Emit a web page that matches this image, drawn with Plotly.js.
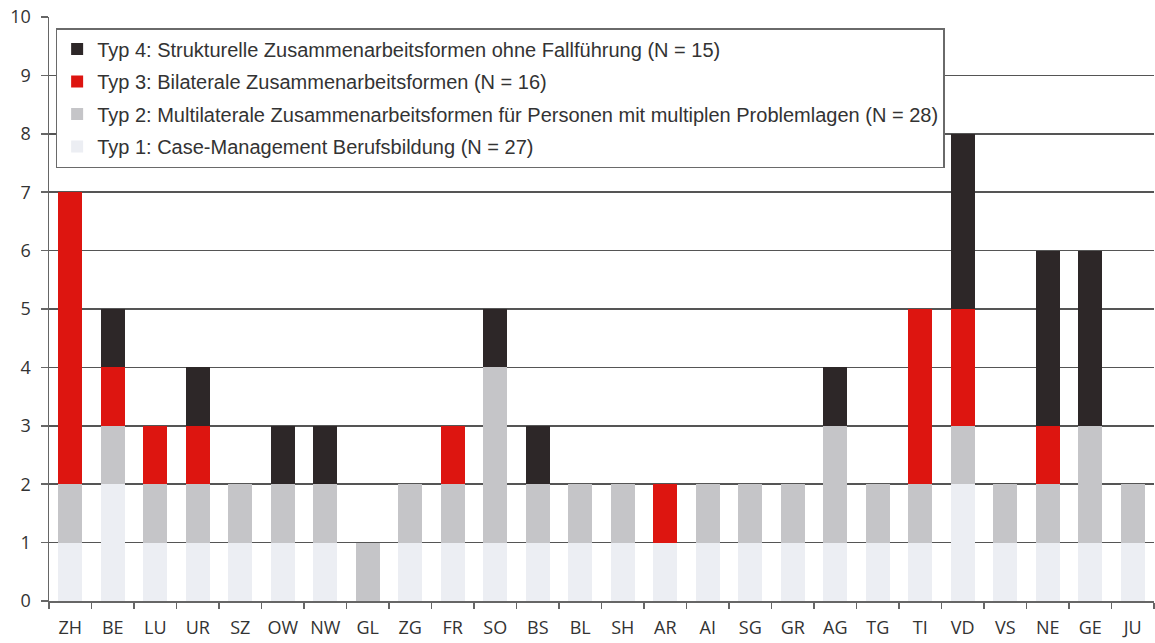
<!DOCTYPE html>
<html>
<head>
<meta charset="utf-8">
<script src="https://cdn.plot.ly/plotly-3.0.1.min.js"></script>
<style>html,body{margin:0;padding:0;background:#fff;}#chart{width:1155px;height:643px;}</style>
</head>
<body>
<div id="chart"></div>
<script>
const cantons = ["ZH","BE","LU","UR","SZ","OW","NW","GL","ZG","FR","SO","BS","BL","SH","AR","AI","SG","GR","AG","TG","TI","VD","VS","NE","GE","JU"];
const typ1 = [1,2,1,1,1,1,1,0,1,1,1,1,1,1,1,1,1,1,1,1,1,2,1,1,1,1];
const typ2 = [1,1,1,1,1,1,1,1,1,1,3,1,1,1,0,1,1,1,2,1,1,1,1,1,2,1];
const typ3 = [5,1,1,1,0,0,0,0,0,1,0,0,0,0,1,0,0,0,0,0,3,2,0,1,0,0];
const typ4 = [0,1,0,1,0,1,1,0,0,0,1,1,0,0,0,0,0,0,1,0,0,3,0,3,3,0];
const names = [
  "Typ 1: Case-Management Berufsbildung (N = 27)",
  "Typ 2: Multilaterale Zusammenarbeitsformen für Personen mit multiplen Problemlagen (N = 28)",
  "Typ 3: Bilaterale Zusammenarbeitsformen (N = 16)",
  "Typ 4: Strukturelle Zusammenarbeitsformen ohne Fallführung (N = 15)"
];
const colors = ["#eceef3","#c5c5c8","#dd1510","#2d2728"];
const series = [typ1, typ2, typ3, typ4];

const traces = series.map((s, i) => ({
  type: "bar",
  x: cantons,
  y: s,
  name: names[i],
  legendgroup: "g" + i,
  legendrank: 4000 - i * 1000,
  marker: {color: colors[i], line: {width: 0}},
  hoverinfo: "x+y+name"
}));

const layout = {
  width: 1155, height: 643,
  margin: {l: 49, r: 1, t: 17, b: 42},
  barmode: "stack",
  bargap: 0.44,
  paper_bgcolor: "#fff",
  plot_bgcolor: "#fff",
  showlegend: true,
  legend: {
    x: 0.006, y: 0.981, xanchor: "left", yanchor: "top",
    bgcolor: "#fff", bordercolor: "#6a6a6a", borderwidth: 1.5,
    traceorder: "grouped",
    tracegroupgap: 3.5,
    itemwidth: 30,
    font: {family: "Liberation Sans, Arial, sans-serif", size: 20, color: "#333"}
  },
  xaxis: {
    type: "category",
    showgrid: false,
    showline: true, linecolor: "#666", linewidth: 1.5,
    ticks: "outside", tickson: "boundaries", ticklen: 6, tickcolor: "#666", tickwidth: 1.5,
    ticklabelstandoff: 10,
    tickfont: {family: "Open Sans, DejaVu Sans, sans-serif", size: 18, color: "#333"},
    fixedrange: true
  },
  yaxis: {
    range: [0, 10],
    dtick: 1,
    showgrid: true, gridcolor: "#555", gridwidth: 1.5,
    zeroline: false,
    showline: true, linecolor: "#666", linewidth: 1.5,
    ticks: "outside", ticklen: 7, tickcolor: "#666", tickwidth: 1.5,
    ticklabelstandoff: 6,
    tickfont: {family: "Open Sans, DejaVu Sans, sans-serif", size: 18, color: "#333"},
    fixedrange: true
  }
};

Plotly.newPlot("chart", traces, layout, {displayModeBar: false, staticPlot: true});
</script>
</body>
</html>
